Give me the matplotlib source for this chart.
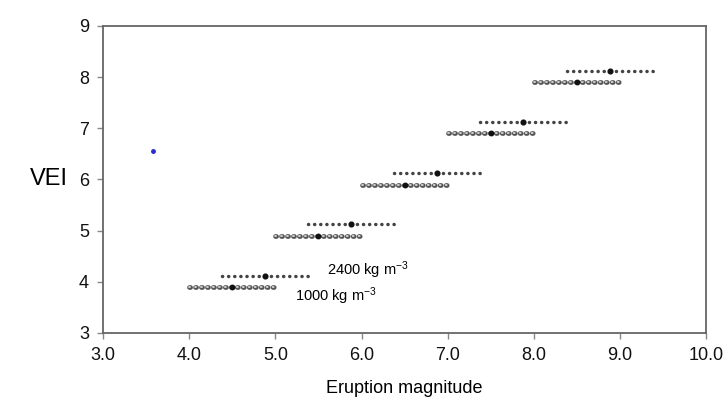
import numpy as np
import matplotlib.pyplot as plt

plt.rcParams['font.family'] = ['Liberation Sans', 'DejaVu Sans']
plt.rcParams['mathtext.default'] = 'regular'
plt.rcParams['lines.scale_dashes'] = False

# VEI classes and eruption magnitude ranges for two deposit densities
vei = [4, 5, 6, 7, 8]
m1000_lo = [4.0, 5.0, 6.0, 7.0, 8.0]
m1000_hi = [5.0, 6.0, 7.0, 8.0, 9.0]
m1000_mid = [4.5, 5.5, 6.5, 7.5, 8.5]
m2400_lo = [4.38, 5.38, 6.38, 7.38, 8.38]
m2400_hi = [5.38, 6.38, 7.38, 8.38, 9.38]
m2400_mid = [4.88, 5.88, 6.88, 7.88, 8.88]
y_off = 0.1

blue_pt = (3.58, 6.55)

fig = plt.figure(figsize=(7.28, 4.12), dpi=100)
ax = fig.add_axes([0.1415, 0.192, 0.8285, 0.745])

y1 = np.array(vei) - y_off
y2 = np.array(vei) + y_off + 0.02

# 1000 kg m-3 : chain of open diamonds
ax.hlines(y1, m1000_lo, m1000_hi, colors='#555555', linewidth=3.4,
          linestyles=[(0, (0.8, 3.5))], capstyle='round')
ax.hlines(y1, m1000_lo, m1000_hi, colors='#e6e6e6', linewidth=1.2,
          linestyles=[(0, (0.8, 3.5))], capstyle='round')
ax.plot(m1000_mid, y1, 'o', color='#111111', ms=3.2, ls='none')

# 2400 kg m-3 : row of small dots
ax.hlines(y2, m2400_lo, m2400_hi, colors='#444444', linewidth=2.5,
          linestyles=[(0, (0.1, 4.3))], capstyle='round')
ax.plot(m2400_mid, y2, 'o', color='#111111', ms=3.4, ls='none')

ax.plot(*blue_pt, 'o', color='#2a2ad0', ms=2.5)

ax.text(5.6, 4.22, '2400 kg m$^{-3}$', fontsize=10.5, va='center')
ax.text(5.23, 3.72, '1000 kg m$^{-3}$', fontsize=10.5, va='center')

ax.set_xlim(3, 10)
ax.set_ylim(3, 9)
ax.set_xticks(np.arange(3, 10.5, 1.0))
ax.set_xticklabels(['%.1f' % v for v in np.arange(3, 10.5, 1.0)])
ax.set_yticks(range(3, 10))
for s in ax.spines.values():
    s.set_color('#666666')
    s.set_linewidth(1.3)
ax.tick_params(direction='out', length=4, width=1, color='#888888',
               labelsize=13, pad=6, labelcolor='#111111')
ax.set_xlabel('Eruption magnitude', fontsize=13, labelpad=12)
ax.set_ylabel('VEI', fontsize=17, rotation=0, labelpad=22, va='center')

fig.savefig('out.png', dpi=100)
